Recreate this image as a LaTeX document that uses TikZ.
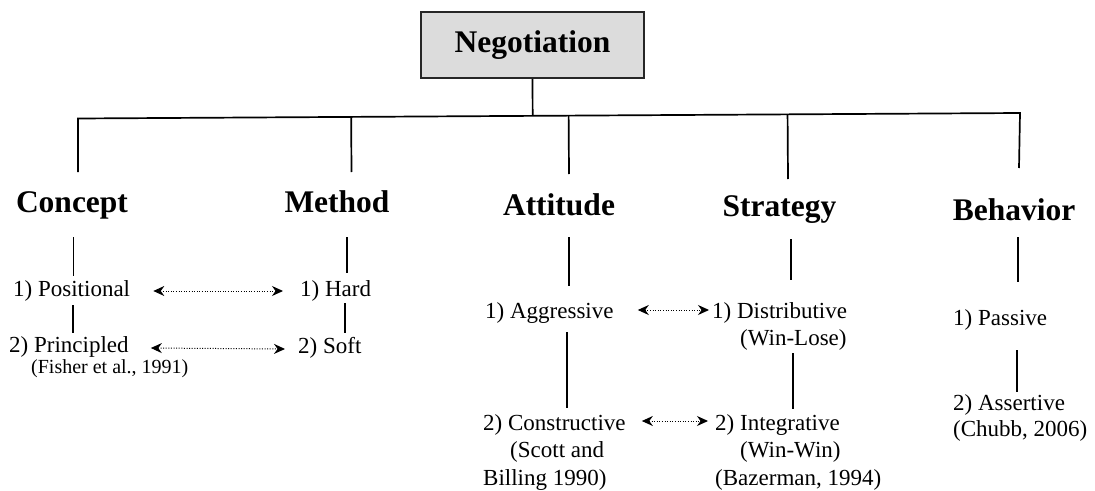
\documentclass[tikz,border=0pt]{standalone}
\usepackage{fontspec}
\setmainfont{Liberation Serif}
\usetikzlibrary{arrows.meta,calc}
\definecolor{boxgray}{RGB}{220,220,220}
\tikzset{
  rootbox/.style={draw=black!85, line width=1.8pt, fill=boxgray, minimum width=223pt,
    minimum height=66pt, inner sep=0pt, font=\fontsize{31.5}{36}\selectfont\bfseries},
  heading/.style={font=\fontsize{31.5}{36}\selectfont\bfseries, inner sep=0pt, anchor=base},
  item/.style={font=\fontsize{23}{27.5}\selectfont, inner sep=0pt, anchor=base west},
  cite/.style={font=\fontsize{20}{24}\selectfont, inner sep=0pt, anchor=base west},
  conn/.style={line width=1.7pt},
  pair/.style={line width=1pt, dash pattern=on 1pt off 1.6pt,
    {Stealth[length=11pt,width=10pt]}-{Stealth[length=11pt,width=10pt]}},
}
\begin{document}
\begin{tikzpicture}[x=1pt,y=-1pt]
\useasboundingbox (0,0) rectangle (1095,490);

% root
\node[rootbox] (neg) at (532.5,45) {Negotiation};

% category headings
\node[heading] (concept)  at (72,212)   {Concept};
\node[heading] (method)   at (337,212)  {Method};
\node[heading] (attitude) at (559,215)  {Attitude};
\node[heading] (strategy) at (779.5,216) {Strategy};
\node[heading] (behavior) at (1014,220) {Behavior};

% items
\node[item] (pos)  at (13,296)  {1) Positional};
\node[item] (pri)  at (9,352)   {2) Principled};
\node[cite] (fis)  at (31,373)  {(Fisher et al., 1991)};
\node[item] (hard) at (300,296) {1) Hard};
\node[item] (soft) at (298,353) {2) Soft};
\node[item] (agg)  at (485,318) {1) Aggressive};
\node[item] (con)  at (483,430) {\vtop{\hbox{2) Constructive}\hbox{\hspace*{27pt}(Scott and}\hbox{Billing 1990)}}};
\node[item] (dis)  at (712,318) {\vtop{\hbox{1) Distributive}\hbox{\hspace*{28pt}(Win-Lose)}}};
\node[item] (int)  at (715,430) {\vtop{\hbox{2) Integrative}\hbox{\hspace*{25pt}(Win-Win)}\hbox{(Bazerman, 1994)}}};
\node[item] (pas)  at (953,325) {1) Passive};
\node[item,font=\fontsize{23}{26}\selectfont] (ass) at (953,410) {\vtop{\hbox{2) Assertive}\hbox{(Chubb, 2006)}}};

% branch bar (slightly tilted) and drops to the headings
\coordinate (L) at (78,118.5);
\coordinate (R) at (1020,113);
\coordinate (dC) at (78,172);
\coordinate (dM) at (351.5,172);
\coordinate (dA) at (569,174);
\coordinate (dS) at (788,179);
\coordinate (dB) at (1019,168);
\draw[conn] (dC) -- (L) -- (R) -- (dB);
\draw[conn] (neg.south) -- ($(L)!(neg.south)!(R)$);
\draw[conn] ($(L)!(dM)!(R)$) -- (dM);
\draw[conn] ($(L)!(dA)!(R)$) -- (dA);
\draw[conn] ($(L)!(dS)!(R)$) -- (dS);

% heading to first item
\coordinate (c1) at (73.5,237); \coordinate (c2) at (73.5,276);
\coordinate (m1) at (347,237);  \coordinate (m2) at (347,273);
\coordinate (a1) at (569,237);  \coordinate (a2) at (569,286);
\coordinate (s1) at (791,239);  \coordinate (s2) at (791,280);
\coordinate (b1) at (1018,237); \coordinate (b2) at (1018,282);
\draw[conn] (c1) -- (c2);
\draw[conn] (m1) -- (m2);
\draw[conn] (a1) -- (a2);
\draw[conn] (s1) -- (s2);
\draw[conn] (b1) -- (b2);

% first item to second item
\coordinate (c3) at (73,305);   \coordinate (c4) at (73,333);
\coordinate (m3) at (345,303);  \coordinate (m4) at (345,333);
\coordinate (a3) at (567,332);  \coordinate (a4) at (567,408);
\coordinate (s3) at (793,353);  \coordinate (s4) at (793,409);
\coordinate (b3) at (1017,350); \coordinate (b4) at (1017,392);
\draw[conn] (c3) -- (c4);
\draw[conn] (m3) -- (m4);
\draw[conn] (a3) -- (a4);
\draw[conn] (s3) -- (s4);
\draw[conn] (b3) -- (b4);

% paired items
\draw[pair] ($(pos.base east)+(23,-5)$) -- ($(hard.base west)+(-17,-5)$);
\draw[pair] ($(pri.base east)+(22,-4)$) -- ($(soft.base west)+(-13,-4)$);
\draw[pair] ($(agg.base east)+(24,-8)$) -- ($(dis.base west)+(-3,-8)$);
\draw[pair] ($(con.base east)+(16,-9)$) -- ($(int.base west)+(-7,-9)$);
\end{tikzpicture}
\end{document}
